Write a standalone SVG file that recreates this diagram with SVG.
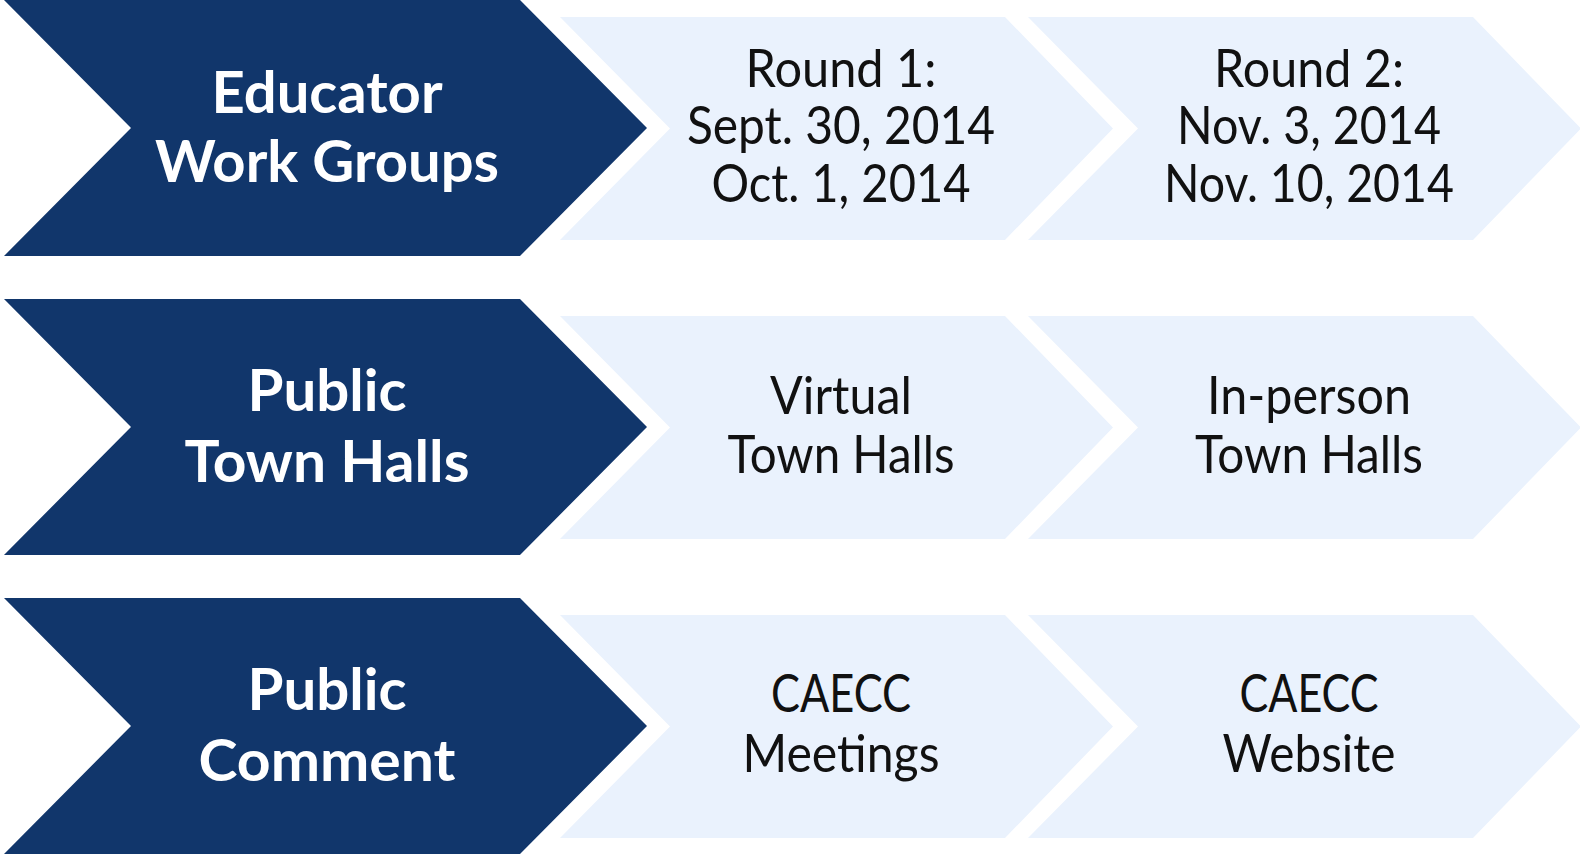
<svg xmlns="http://www.w3.org/2000/svg" xmlns:xlink="http://www.w3.org/1999/xlink" width="1580" height="855" viewBox="0 0 1580 855">
  <defs>
    <style>
      .dark { fill: #11366b; }
      .light { fill: #eaf2fd; }
      .lead { font-family: Lato, "Liberation Sans", sans-serif; font-weight: 700; font-size: 58px; fill: #ffffff; text-anchor: middle; }
      .step { font-family: Lato, "Liberation Sans", sans-serif; font-weight: 400; font-size: 53px; fill: #111111; text-anchor: middle; }
    </style>
    <!-- leading dark chevron, 256 tall, notched on the left -->
    <path id="chev-dark" d="M4,0 H520 L647,128 L520,256 H4 L131,128 Z"/>
    <!-- following light chevron, 223 tall -->
    <path id="chev-light" d="M0,0 H445 L553,111.5 L445,223 H0 L110,111.5 Z"/>
  </defs>

  <rect width="1580" height="855" fill="#ffffff"/>

  <!-- Row 1: educator work groups -->
  <g id="educator-work-groups">
    <use href="#chev-dark" class="dark"/>
    <text class="lead"><tspan x="327" y="113" textLength="231" lengthAdjust="spacingAndGlyphs">Educator</tspan><tspan x="327" y="182" textLength="344" lengthAdjust="spacingAndGlyphs">Work Groups</tspan></text>
  </g>
  <g id="round-1">
    <use href="#chev-light" class="light" transform="translate(560,17)"/>
    <text class="step"><tspan x="841" y="87" textLength="191" lengthAdjust="spacingAndGlyphs">Round 1:</tspan><tspan x="841" y="144" textLength="308" lengthAdjust="spacingAndGlyphs">Sept. 30, 2014</tspan><tspan x="841" y="202" textLength="259" lengthAdjust="spacingAndGlyphs">Oct. 1, 2014</tspan></text>
  </g>
  <g id="round-2">
    <use href="#chev-light" class="light" transform="translate(1028,17)"/>
    <text class="step"><tspan x="1309" y="87" textLength="190" lengthAdjust="spacingAndGlyphs">Round 2:</tspan><tspan x="1309" y="144" textLength="264" lengthAdjust="spacingAndGlyphs">Nov. 3, 2014</tspan><tspan x="1309" y="202" textLength="290" lengthAdjust="spacingAndGlyphs">Nov. 10, 2014</tspan></text>
  </g>

  <!-- Row 2: public town halls -->
  <g id="public-town-halls">
    <use href="#chev-dark" class="dark" transform="translate(0,299)"/>
    <text class="lead"><tspan x="327" y="411" textLength="159" lengthAdjust="spacingAndGlyphs">Public</tspan><tspan x="327" y="482" textLength="285" lengthAdjust="spacingAndGlyphs">Town Halls</tspan></text>
  </g>
  <g id="virtual-town-halls">
    <use href="#chev-light" class="light" transform="translate(560,316)"/>
    <text class="step"><tspan x="841" y="414" textLength="142" lengthAdjust="spacingAndGlyphs">Virtual</tspan><tspan x="841" y="473" textLength="227" lengthAdjust="spacingAndGlyphs">Town Halls</tspan></text>
  </g>
  <g id="in-person-town-halls">
    <use href="#chev-light" class="light" transform="translate(1028,316)"/>
    <text class="step"><tspan x="1309" y="414" textLength="204" lengthAdjust="spacingAndGlyphs">In-person</tspan><tspan x="1309" y="473" textLength="228" lengthAdjust="spacingAndGlyphs">Town Halls</tspan></text>
  </g>

  <!-- Row 3: public comment -->
  <g id="public-comment">
    <use href="#chev-dark" class="dark" transform="translate(0,598)"/>
    <text class="lead"><tspan x="327" y="710" textLength="159" lengthAdjust="spacingAndGlyphs">Public</tspan><tspan x="327" y="781" textLength="257" lengthAdjust="spacingAndGlyphs">Comment</tspan></text>
  </g>
  <g id="caecc-meetings">
    <use href="#chev-light" class="light" transform="translate(560,615)"/>
    <text class="step"><tspan x="841" y="712" textLength="140" lengthAdjust="spacingAndGlyphs">CAECC</tspan><tspan x="841" y="772" textLength="197" lengthAdjust="spacingAndGlyphs">Meetings</tspan></text>
  </g>
  <g id="caecc-website">
    <use href="#chev-light" class="light" transform="translate(1028,615)"/>
    <text class="step"><tspan x="1309" y="712" textLength="139" lengthAdjust="spacingAndGlyphs">CAECC</tspan><tspan x="1309" y="772" textLength="173" lengthAdjust="spacingAndGlyphs">Website</tspan></text>
  </g>
</svg>
